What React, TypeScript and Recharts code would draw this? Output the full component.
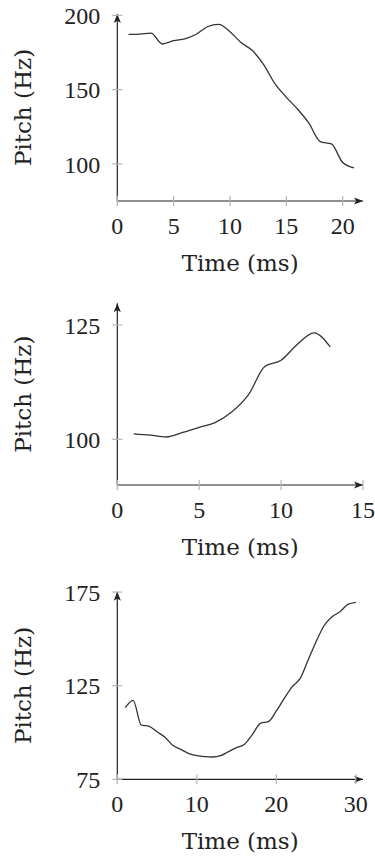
import { LineChart, Line, XAxis, YAxis, Label } from "recharts"

// chart 1: falling contour
const times1 = [1, 2, 3, 4, 5, 6, 7, 8, 9, 10, 11, 12, 13, 14, 15, 16, 17, 18, 19, 20, 21]
const pitch1 = [187.2, 187.4, 188, 180.7, 182.9, 184.2, 187.3, 192.3, 193.9, 188.9, 181.5, 176.2, 166.6, 153.8, 144.8, 136.8, 127.4, 115, 113.4, 100.9, 97.3]
const xTicks1 = [0, 5, 10, 15, 20]
const yTicks1 = [100, 150, 200]

// chart 2: rising contour
const times2 = [1, 2, 3, 4, 5, 6, 7, 8, 9, 10, 11, 12, 13]
const pitch2 = [101.2, 100.9, 100.5, 101.5, 102.6, 103.7, 106, 109.7, 115.9, 117.3, 120.8, 123.3, 120.2]
const xTicks2 = [0, 5, 10, 15]
const yTicks2 = [100, 125]

// chart 3: dip then rise
const times3 = [1, 2, 3, 4, 5, 6, 7, 8, 9, 10, 11, 12, 13, 14, 15, 16, 17, 18, 19, 20, 21, 22, 23, 24, 25, 26, 27, 28, 29, 30]
const pitch3 = [113.3, 117.2, 104, 103.3, 100.4, 97.4, 93, 91, 88.7, 87.6, 87.1, 86.9, 87.6, 89.8, 91.9, 93.7, 99, 104.9, 105.8, 111.5, 118.2, 124.5, 128.9, 138.7, 148.5, 157, 161.8, 164.5, 168.4, 169.5]
const xTicks3 = [0, 10, 20, 30]
const yTicks3 = [75, 125, 175]

const toRows = (xs: number[], ys: number[]) => xs.map((t, i) => ({ t, hz: ys[i] }))

const tickFont = "'Liberation Serif', serif"
const labelFont = "'DejaVu Serif', serif"
const ink = "#222"
const tickGray = "#b5b5b5"

function XTick({ x, y, payload }: any) {
  return (
    <g>
      <line x1={x} x2={x} y1={y - 5} y2={y + 5} stroke={tickGray} strokeWidth={1.2} />
      <text x={x} y={y + 33} textAnchor="middle" fontFamily={tickFont} fontSize={24} fill={ink}>
        {payload.value}
      </text>
    </g>
  )
}

function YTick({ x, y, payload }: any) {
  return (
    <g>
      <line x1={x - 5} x2={x + 5} y1={y} y2={y} stroke={tickGray} strokeWidth={1.2} />
      <text x={x - 17} y={y} dy="0.36em" textAnchor="end" fontFamily={tickFont} fontSize={24} fill={ink}>
        {payload.value}
      </text>
    </g>
  )
}

function XTitle({ viewBox }: any) {
  const { x, y, width } = viewBox
  return (
    <text x={x + width / 2} y={y + 70} textAnchor="middle" fontFamily={labelFont} fontSize={23} fill={ink}>
      Time (ms)
    </text>
  )
}

function YTitle({ viewBox }: any) {
  const { x, y, height } = viewBox
  const cx = x + 31
  const cy = y + height / 2
  return (
    <text x={cx} y={cy} transform={`rotate(-90 ${cx} ${cy})`} textAnchor="middle" fontFamily={labelFont} fontSize={23} fill={ink}>
      Pitch (Hz)
    </text>
  )
}

type PitchProps = {
  rows: { t: number; hz: number }[]
  xDomain: [number, number]
  yDomain: [number, number]
  xTicks: number[]
  yTicks: number[]
  height: number
  top: number
  axisHeight: number
}

function PitchChart({ rows, xDomain, yDomain, xTicks, yTicks, height, top, axisHeight }: PitchProps) {
  return (
    <LineChart width={375} height={height} data={rows} margin={{ top, right: 12, bottom: 0, left: 0 }}>
      <XAxis
        dataKey="t"
        type="number"
        domain={xDomain}
        ticks={xTicks}
        interval={0}
        height={axisHeight}
        tickSize={0}
        tickMargin={0}
        tickLine={false}
        tick={<XTick />}
        axisLine={{ stroke: ink, strokeWidth: 1.2, markerEnd: "url(#axisArrow)" }}
        allowDataOverflow
      >
        <Label content={<XTitle />} />
      </XAxis>
      <YAxis
        type="number"
        domain={yDomain}
        ticks={yTicks}
        interval={0}
        width={117.3}
        tickSize={0}
        tickMargin={0}
        tickLine={false}
        tick={<YTick />}
        axisLine={{ stroke: ink, strokeWidth: 1.2, markerStart: "url(#axisArrow)" }}
        allowDataOverflow
      >
        <Label content={<YTitle />} />
      </YAxis>
      <Line
        type="monotone"
        dataKey="hz"
        stroke="#333"
        strokeWidth={1.3}
        dot={false}
        isAnimationActive={false}
      />
    </LineChart>
  )
}

export default function App() {
  return (
    <div style={{ position: "absolute", left: 0, top: 0, width: 375, height: 860, background: "#fff" }}>
      <svg width={0} height={0} style={{ position: "absolute" }}>
        <defs>
          <marker
            id="axisArrow"
            viewBox="0 0 10 10"
            refX="10"
            refY="5"
            markerWidth="9"
            markerHeight="9"
            markerUnits="userSpaceOnUse"
            orient="auto-start-reverse"
          >
            <path d="M0,1 L10,5 L0,9 L2.5,5 z" fill={ink} />
          </marker>
        </defs>
      </svg>
      <PitchChart
        rows={toRows(times1, pitch1)}
        xDomain={[0, 21.8]}
        yDomain={[75, 200.9]}
        xTicks={xTicks1}
        yTicks={yTicks1}
        height={290}
        top={14}
        axisHeight={89}
      />
      <PitchChart
        rows={toRows(times2, pitch2)}
        xDomain={[0, 15]}
        yDomain={[90, 129.75]}
        xTicks={xTicks2}
        yTicks={yTicks2}
        height={290}
        top={13.3}
        axisHeight={95}
      />
      <PitchChart
        rows={toRows(times3, pitch3)}
        xDomain={[0, 30.9]}
        yDomain={[75, 175.2]}
        xTicks={xTicks3}
        yTicks={yTicks3}
        height={280}
        top={11.7}
        axisHeight={80.7}
      />
    </div>
  )
}
